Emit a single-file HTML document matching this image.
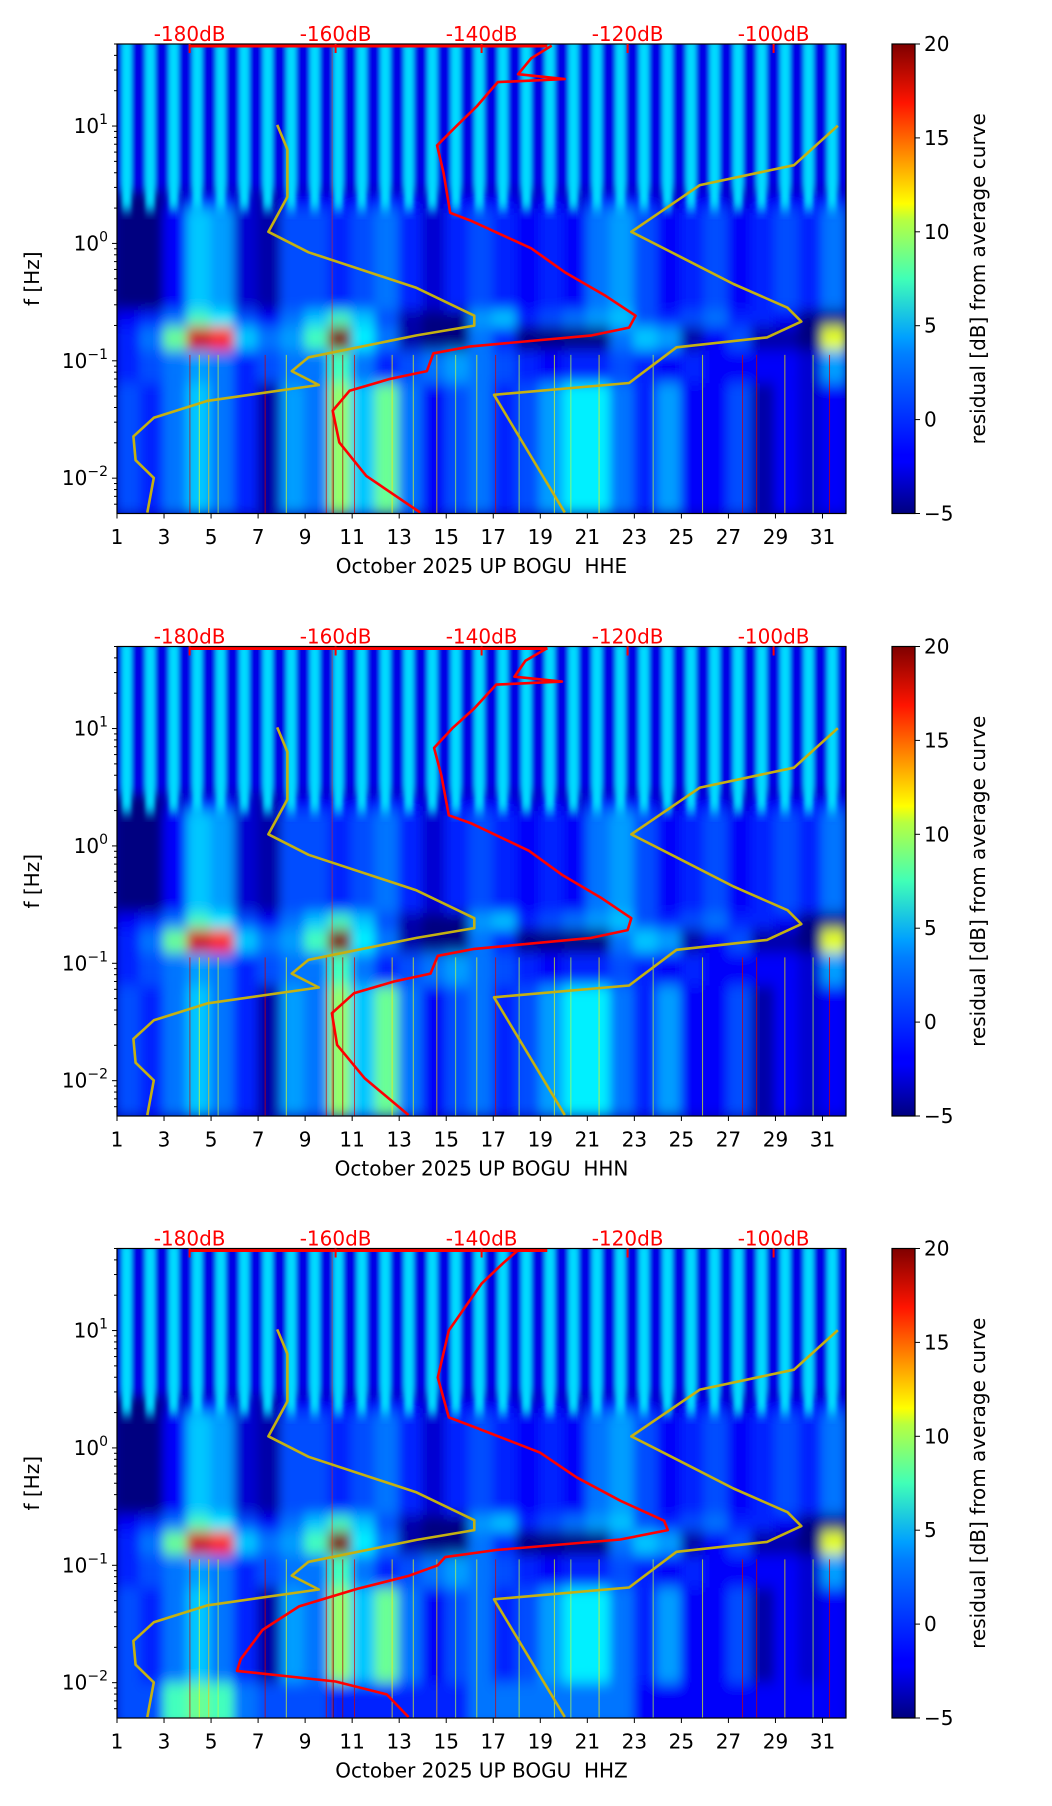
<!DOCTYPE html>
<html><head><meta charset="utf-8">
<style>
html,body{margin:0;padding:0;background:#fff;}
svg{display:block;font-family:"DejaVu Sans","Liberation Sans",sans-serif;}
</style></head>
<body>
<svg id="fig" width="1052" height="1806" viewBox="0 0 1052 1806" xmlns="http://www.w3.org/2000/svg">
<defs>
<filter id="blur" x="-5%" y="-5%" width="110%" height="110%"><feGaussianBlur stdDeviation="5 7"/></filter>
<filter id="sblur" x="-5%" y="-5%" width="110%" height="110%"><feGaussianBlur stdDeviation="2 6"/></filter>
<linearGradient id="jetgrad" x1="0" y1="1" x2="0" y2="0">
<stop offset="0" stop-color="#00007f"/><stop offset="0.11" stop-color="#0000ff"/><stop offset="0.125" stop-color="#0000ff"/>
<stop offset="0.34" stop-color="#0080ff"/><stop offset="0.375" stop-color="#00a0ff"/><stop offset="0.5" stop-color="#40ffb7"/>
<stop offset="0.625" stop-color="#b7ff40"/><stop offset="0.66" stop-color="#ffff00"/><stop offset="0.875" stop-color="#ff1400"/><stop offset="1" stop-color="#7f0000"/>
</linearGradient>
</defs>
</svg>
<script>
// ---- data ----
const days = [1,2,3,4,5,6,7,8,9,10,11,12,13,14,15,16,17,18,19,20,21,22,23,24,25,26,27,28,29,30,31];
const xTicks = [1,3,5,7,9,11,13,15,17,19,21,23,25,27,29,31];
const yTickExp = [1,0,-1,-2];
const cbTicks = [20,15,10,5,0,-5];
const cbTickLabels = ["20","15","10","5","0","\u22125"];
const dbTicks = [-180,-160,-140,-120,-100];
const dbTickLabels = ["-180dB","-160dB","-140dB","-120dB","-100dB"];
const channels = ["HHE","HHN","HHZ"];
// heatmap bands: log10(f) ranges and per-day residual dB values
const bandLo = [-2.31,-1.19,-0.91,-0.71,-0.57,0.30];
const bandHi = [-1.19,-0.91,-0.71,-0.57,0.30,0.45];
const bandLow = [0,-1,1,3,1,-1,-4,2,1,8,3,7,1,-2,0,1,-1,0,2,4,4,1,-1,2,-2,-2,0,-4,-2,-3,-2];
const bandF = [-1,0,1,2,1,-1,0,1,1,6,1,-1,0,1,2,1,0,-1,-2,-1,-1,0,-1,-2,-1,-2,-2,-2,-2,-3,2];
const bandE = [-1,1,7,18,16,3,1,2,6,20,4,1,-4,-5,-5,1,-1,-5,-5,-5,-5,1,3,2,-4,-2,0,-4,-4,-5,10];
const bandD = [-2,-1,1,6,4,0,-2,1,3,6,3,0,-4,-5,-5,2,3,-1,0,1,2,3,0,-1,0,1,-1,-1,-2,-5,-5];
const bandC = [-5,-5,-2,3,2,-3,-4,0,0,-1,0,1,-1,-3,-1,0,-1,-2,-1,-2,1,2,0,-2,-1,0,-2,-1,0,-1,1];
const bandT = [-5,-5,-3,-1,-1,-3,-4,-2,-2,-2,-2,-1,-2,-3,-2,-2,-2,-3,-2,-3,-1,-1,-2,-3,-2,-2,-3,-2,-2,-2,-1];
const stripeVal = 3.5, stripeBase = -2.5;
const lowestRowZ = [0,0,6,7,6,1,0,0,0,-1,-1,-1,-1,-1,-1,1,1,1,1,1,1,1,-2,-2,-2,-2,-2,-2,-2,-2,-2];
const streakDays = [4.1,4.5,4.9,5.3,7.3,8.2,9.9,10.2,10.6,11.1,12.7,13.6,14.6,15.4,16.3,17.1,18.1,19.6,20.3,21.5,23.8,25.9,27.6,28.2,29.4,30.6,31.3];
const streakVals = [18,10,12,9,18,10,18,20,19,18,11,10,12,9,10,18,9,10,9,11,9,10,18,18,11,9,18];
// red PSD curve (log10 f, dB)
const redLogF = [1.685,1.577,1.442,1.40,1.374,1.172,1.003,0.835,0.599,0.261,0.194,-0.042,-0.245,-0.447,-0.616,-0.717,-0.784,-0.877,-0.936,-1.088,-1.155,-1.256,-1.425,-1.695,-1.981,-2.293];
const redDB1 = [-130.4,-133.2,-135,-128.6,-137.8,-140.6,-143.4,-146.1,-145.2,-144.3,-141.5,-133.2,-128.6,-123.0,-118.9,-119.8,-124.9,-141.5,-146.6,-147.5,-152.6,-158.1,-160.4,-159.5,-155.8,-148.4];
const redDB2 = [-131,-134,-135.5,-129,-138,-141,-144,-146.5,-145.5,-144.5,-141.5,-133.5,-129,-123.5,-119.5,-120,-125,-141,-146,-147,-152,-157.5,-160.5,-159.8,-156,-150];
const redLogF3 = [1.685,1.577,1.40,1.0,0.6,0.26,0.19,-0.04,-0.25,-0.45,-0.62,-0.70,-0.78,-0.87,-0.93,-1.0,-1.09,-1.2,-1.35,-1.55,-1.8,-1.9,-1.99,-2.1,-2.293];
const redDB3 = [-135,-137,-140,-144.5,-146,-144.5,-141.5,-132,-127,-121,-115,-114.5,-121,-138,-145,-146,-150,-157,-165,-170,-173,-173.5,-160,-153,-150];
const redTopDB = [-180,-131];
// Peterson noise models
const nhnmLogF = [1.003,0.666,0.497,0.099,-0.110,-0.346,-0.548,-0.666,-0.801,-0.885,-1.189,-1.290,-2.293];
const nhnmDB = [-91.2,-97.2,-110.1,-119.5,-112.9,-105.5,-98.1,-96.2,-100.9,-113.3,-119.8,-138.3,-128.6];
const nlnmLogF = [1.010,0.801,0.396,0.099,-0.076,-0.379,-0.616,-0.700,-0.784,-0.970,-1.088,-1.206,-1.341,-1.486,-1.644,-1.847,-1.998,-2.293];
const nlnmDB = [-168.0,-166.6,-166.6,-169.2,-163.7,-148.9,-141.0,-141.0,-148.9,-163.7,-166.0,-162.3,-177.5,-184.9,-187.7,-187.4,-184.9,-185.8];

// ---- helpers ----
const NS = "http://www.w3.org/2000/svg";
const fig = document.getElementById('fig');
const L = 117, R = 846, H = 469.5, TOPS = [44, 646.5, 1248.5];
const CBX = 892, CBW = 23;
const xDay = d => L + (d - 1) * (R - L) / 31;
const yLog = (top, lf) => top + (1.699 - lf) * (H / 4);
const xDB = db => 189.6 + (db + 180) * 7.3;
function jet(v){
  let t = Math.max(0, Math.min(1, (v + 5) / 25));
  const c = x => Math.round(255 * Math.max(0, Math.min(1, x)));
  const r = Math.min(4*t - 1.5, -4*t + 4.5), g = Math.min(4*t - 0.5, -4*t + 3.5), b = Math.min(4*t + 0.5, -4*t + 2.5);
  return `rgb(${c(r)},${c(g)},${c(b)})`;
}
function mk(tag, attrs, parent){
  const e = document.createElementNS(NS, tag);
  for (const k in attrs) e.setAttribute(k, attrs[k]);
  (parent || fig).appendChild(e);
  return e;
}
function poly(top, lfs, dbs, color, w, parent){
  const pts = lfs.map((lf, i) => xDB(dbs[i]).toFixed(1) + ',' + yLog(top, lf).toFixed(1)).join(' ');
  return mk('polyline', {points: pts, fill: 'none', stroke: color, 'stroke-width': w, 'stroke-linejoin': 'round'}, parent);
}

TOPS.forEach((top, pi) => {
  const g = mk('g', {});
  
  
  const cid = 'clip' + pi;
  const cp = mk('clipPath', {id: cid}, g);
  mk('rect', {x: L, y: top, width: R - L, height: H}, cp);
  const hm = mk('g', {'clip-path': `url(#${cid})`}, g);
  
  
  mk('rect', {x: L, y: top, width: R - L, height: H, fill: jet(-4)}, hm);
  const bl = mk('g', {filter: 'url(#blur)'}, hm);
  const bands = [bandLow, bandF, bandE, bandD, bandC, bandT];
  bands.forEach((arr, bi) => {
    days.forEach((d, di) => {
      const r = mk('rect', {x: xDay(d) - 1, y: yLog(top, bandHi[bi]), width: (R - L) / 31 + 2, height: yLog(top, bandLo[bi]) - yLog(top, bandHi[bi]), fill: jet(arr[di])}, bl);
      
      
    });
  });
  if (pi === 2) {
    days.forEach((d, di) => {
      const r = mk('rect', {x: xDay(d) - 1, y: yLog(top, -2.0), width: (R - L) / 31 + 2, height: yLog(top, -2.4) - yLog(top, -2.0), fill: jet(lowestRowZ[di])}, bl);
      
      
    });
  }
  // upper band: daily stripes
  const sg = mk('g', {filter: 'url(#sblur)'}, hm);
  mk('rect', {x: L - 10, y: top - 10, width: R - L + 20, height: yLog(top, 0.45) - top + 10, fill: jet(stripeBase)}, sg);
  days.forEach(d => {
    const s = mk('rect', {x: xDay(d) + 0.2 * (R - L) / 31, y: top - 10, width: 0.42 * (R - L) / 31, height: yLog(top, 0.28) - top + 10, fill: jet(stripeVal)}, sg);
    
    
  });
  // streaks
  streakDays.forEach((d, i) => {
    const s = mk('line', {x1: xDay(d), x2: xDay(d), y1: yLog(top, -0.95), y2: top + H, stroke: jet(streakVals[i]), 'stroke-width': 1, opacity: 0.7}, hm);
    
    
  });
  mk('line', {x1: xDay(10.15), x2: xDay(10.15), y1: top, y2: top + H, stroke: jet(16), 'stroke-width': 1, opacity: 0.5}, hm);
  // curves
  const nl = poly(top, nlnmLogF, nlnmDB, '#c4b112', 2.6, hm);
  
  
  const nh = poly(top, nhnmLogF, nhnmDB, '#c4b112', 2.6, hm);
  
  
  const rl = pi === 2 ? poly(top, redLogF3, redDB3, '#ff0000', 2.6, hm) : poly(top, redLogF, pi === 0 ? redDB1 : redDB2, '#ff0000', 2.6, hm);
  
  
  const rt = mk('line', {x1: xDB(redTopDB[0]), x2: xDB(redTopDB[1]), y1: top + 2, y2: top + 2, stroke: '#ff0000', 'stroke-width': 3}, hm);
  
  
  // frame
  const fr = mk('rect', {x: L, y: top, width: R - L, height: H, fill: 'none', stroke: '#000', 'stroke-width': 1.2}, g);
  
  
  // x ticks
  xTicks.forEach(d => {
    mk('line', {x1: xDay(d), x2: xDay(d), y1: top + H, y2: top + H + 5, stroke: '#000', 'stroke-width': 1}, g);
    const t = mk('text', {x: xDay(d), y: top + H + 30.5, 'font-size': 20, 'text-anchor': 'middle', fill: '#000'}, g);
    t.textContent = d;
    
    
  });
  const xl = mk('text', {x: (L + R) / 2, y: top + H + 59.5, 'font-size': 20, 'text-anchor': 'middle', fill: '#000', 'xml:space': 'preserve'}, g);
  xl.textContent = 'October 2025 UP BOGU\u00a0 ' + channels[pi];
  
  
  // y ticks
  for (let e = -3; e <= 1; e++) {
    for (let m = 1; m <= 9; m++) {
      const lf = e + Math.log10(m);
      if (lf < -2.301 || lf > 1.699) continue;
      const len = m === 1 ? 5 : 3;
      mk('line', {x1: L - len, x2: L, y1: yLog(top, lf), y2: yLog(top, lf), stroke: '#000', 'stroke-width': 1}, g);
    }
  }
  yTickExp.forEach(e => {
    const t = mk('text', {x: L - 9, y: yLog(top, e) + 7, 'font-size': 20, 'text-anchor': 'end', fill: '#000'}, g);
    
    
    const a = mk('tspan', {}, t); a.textContent = '10';
    const b = mk('tspan', {'font-size': 14, dy: -9}, t); b.textContent = e < 0 ? '\u2212' + (-e) : String(e);
  });
  const yl = mk('text', {x: 0, y: 0, 'font-size': 20, 'text-anchor': 'middle', fill: '#000', transform: `translate(39,${top + H / 2}) rotate(-90)`}, g);
  yl.textContent = 'f [Hz]';
  
  
  // top dB labels
  dbTicks.forEach((db, i) => {
    mk('line', {x1: xDB(db), x2: xDB(db), y1: top, y2: top + 9, stroke: '#ff0000', 'stroke-width': 2}, g);
    const t = mk('text', {x: xDB(db), y: top - 3, 'font-size': 20, 'text-anchor': 'middle', fill: '#ff0000'}, g);
    t.textContent = dbTickLabels[i];
    
    
  });
  // colorbar
  const cb = mk('rect', {x: CBX, y: top, width: CBW, height: H, fill: 'url(#jetgrad)', stroke: '#000', 'stroke-width': 1.2}, g);
  
  
  cbTicks.forEach((v, i) => {
    const y = top + (20 - v) / 25 * H;
    mk('line', {x1: CBX + CBW, x2: CBX + CBW + 5, y1: y, y2: y, stroke: '#000', 'stroke-width': 1}, g);
    const t = mk('text', {x: CBX + CBW + 9, y: y + 7, 'font-size': 20, fill: '#000'}, g);
    t.textContent = cbTickLabels[i];
    
    
  });
  const cl = mk('text', {x: 0, y: 0, 'font-size': 20, 'text-anchor': 'middle', fill: '#000', transform: `translate(985,${top + H / 2}) rotate(-90)`}, g);
  cl.textContent = 'residual [dB] from average curve';
  
  
});
</script>
</body></html>
